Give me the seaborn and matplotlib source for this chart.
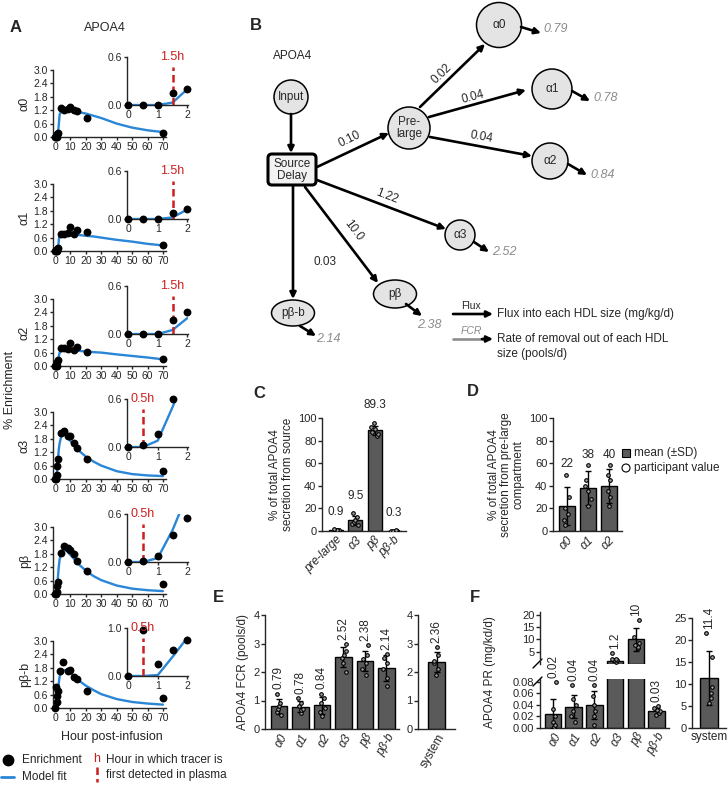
import numpy as np
import pandas as pd
import matplotlib
matplotlib.use("Agg")
import matplotlib.pyplot as plt
import seaborn as sns
from matplotlib.patches import Ellipse, FancyBboxPatch, Rectangle
from matplotlib.ticker import FormatStrFormatter

sns.set_theme(style="ticks")
plt.rcParams["font.family"] = ["Liberation Sans", "DejaVu Sans"]
plt.rcParams["axes.facecolor"] = "none"
plt.rcParams["axes.linewidth"] = 1.0
np.random.seed(4)

BLUE = "#2a86d6"
RED = "#cc1f1f"
BAR = "#5a5a5a"
GREY_TXT = "#8c8c8c"
NODE = "#e4e4e4"

# --- Panel A: enrichment time courses ---
species = ["α0", "α1", "α2", "α3", "pβ", "pβ-b"]
early_t = [0, 0.5, 1, 1.5, 2]
late_t = [4, 6, 8.5, 10, 12, 14, 21, 70]
pbb_late_t = [3, 5.5, 8.5, 10, 12, 14, 21, 70]

a0_enr = [0, 0, 0, 0.15, 0.2, 1.3, 1.2, 1.25, 1.35, 1.2, 1.15, 0.85, 0.2]
a1_enr = [0, 0, 0, 0.08, 0.13, 0.78, 0.74, 0.8, 1.07, 0.78, 0.93, 0.83, 0.25]
a2_enr = [0, 0, 0, 0.17, 0.27, 0.82, 0.82, 0.78, 1.05, 0.72, 0.85, 0.64, 0.32]
a3_enr = [0, 0.02, 0.16, 0.6, 0.9, 2.05, 2.15, 1.94, 1.94, 1.63, 1.4, 0.88, 0.35]
pb_enr = [0, 0.01, 0.08, 0.34, 0.55, 1.83, 2.16, 2.05, 1.98, 1.79, 1.48, 1.03, 0.45]
pbb_enr = [0, 0.95, 0.25, 0.55, 0.74, 1.65, 2.05, 1.67, 1.7, 1.37, 1.28, 0.74, 0.45]

fit_t = [0, 0.5, 1, 1.5, 2, 2.5, 3, 4, 5, 6, 8, 10, 12, 15, 20, 25, 30, 40, 50, 60, 70]
a0_fit = [0, 0, 0, 0.03, 0.2, 0.6, 1.0, 1.15, 1.2, 1.2, 1.2, 1.2, 1.18, 1.12, 1.05, 0.95, 0.85, 0.6, 0.42, 0.3, 0.22]
a1_fit = [0, 0, 0, 0.02, 0.12, 0.5, 0.75, 0.8, 0.8, 0.8, 0.78, 0.76, 0.74, 0.72, 0.68, 0.65, 0.6, 0.5, 0.42, 0.32, 0.25]
a2_fit = [0, 0, 0, 0.05, 0.2, 0.45, 0.6, 0.68, 0.7, 0.7, 0.7, 0.7, 0.69, 0.68, 0.65, 0.62, 0.6, 0.52, 0.45, 0.38, 0.3]
a3_fit = [0, 0, 0.08, 0.5, 0.95, 1.35, 1.6, 1.9, 2.0, 2.0, 1.85, 1.7, 1.55, 1.3, 1.0, 0.78, 0.6, 0.35, 0.22, 0.16, 0.13]
pb_fit = [0, 0, 0.05, 0.4, 0.85, 1.25, 1.55, 1.85, 2.0, 2.0, 1.9, 1.75, 1.6, 1.35, 1.05, 0.8, 0.62, 0.38, 0.24, 0.17, 0.13]
pbb_fit = [0, 0, 0.02, 0.4, 0.8, 1.15, 1.4, 1.6, 1.7, 1.7, 1.65, 1.55, 1.45, 1.25, 1.0, 0.8, 0.62, 0.4, 0.27, 0.2, 0.15]

onset_h = [1.5, 1.5, 1.5, 0.5, 0.5, 0.5]
inset_top = [0.6, 0.6, 0.6, 0.6, 0.6, 1.0]

# --- Panel B: fluxes and FCRs ---
flux_vals = ["0.10", "0.02", "0.04", "0.04", "1.22", "10.0", "0.03"]

# --- Panel C ---
c_cats = ["pre-large", "α3", "pβ", "pβ-b"]
c_mean = [0.9, 9.5, 89.3, 0.3]
c_sd = [0.4, 4.0, 4.0, 0.15]
c_pts = [[0.3, 0.6, 0.8, 1.0, 1.2, 1.5], [5, 6, 8, 10, 12, 16],
         [84, 86, 88, 90, 92, 96], [0.1, 0.2, 0.3, 0.3, 0.4, 0.5]]

# --- Panel D ---
d_cats = ["α0", "α1", "α2"]
d_mean = [22, 38, 40]
d_sd = [17, 15, 15]
d_pts = [[5, 10, 15, 20, 30, 50], [22, 28, 35, 40, 45, 58], [22, 30, 35, 45, 50, 58]]

# --- Panel E: FCR ---
e_cats = ["α0", "α1", "α2", "α3", "pβ", "pβ-b"]
e_mean = [0.79, 0.78, 0.84, 2.52, 2.38, 2.14]
e_sd = [0.28, 0.2, 0.3, 0.35, 0.35, 0.45]
e_pts = [[0.5, 0.6, 0.7, 0.8, 0.9, 1.24], [0.55, 0.65, 0.7, 0.8, 0.9, 1.08],
         [0.45, 0.6, 0.75, 0.9, 1.1, 1.24], [2.0, 2.3, 2.5, 2.6, 2.75, 2.97],
         [1.9, 2.1, 2.3, 2.45, 2.6, 2.93], [1.5, 1.8, 2.1, 2.3, 2.5, 2.64]]
sys_fcr_mean = 2.36
sys_fcr_sd = 0.35
sys_fcr_pts = [1.9, 2.1, 2.3, 2.4, 2.6, 2.86]

# --- Panel F: production rate ---
f_mean = [0.025, 0.037, 0.04, 1.2, 10, 0.03]
f_sd = [0.025, 0.02, 0.025, 0.4, 4.5, 0.005]
f_lbl = ["0.02", "0.04", "0.04", "1.2", "10", "0.03"]
f_pts = [[0.002, 0.005, 0.01, 0.02, 0.033, 0.08], [0.01, 0.02, 0.03, 0.04, 0.05, 0.075],
         [0.005, 0.02, 0.03, 0.04, 0.055, 0.075], [1.0, 1.5, 1.8, 1.9, 2.0, 4.5],
         [6.5, 7.1, 7.8, 8.6, 11, 18], [0.022, 0.026, 0.029, 0.031, 0.034, 0.038]]
sys_pr_mean = 11.4
sys_pr_sd = 6.2
sys_pr_pts = [5.7, 6.8, 8.0, 9.4, 16.2, 21.6]

W, H = 728, 785
fig = plt.figure(figsize=(W / 100, H / 100), dpi=100)
fig.patch.set_facecolor("white")


def box(l, t, r, b):
    return fig.add_axes([l / W, 1 - b / H, (r - l) / W, (b - t) / H])


# canvas in pixel units for the schematic and hand-made legends
ax_b = fig.add_axes([0, 0, 1, 1], zorder=-1)
ax_b.set_xlim(0, W)
ax_b.set_ylim(H, 0)
ax_b.axis("off")

# ---------------- Panel A ----------------
enrs = [a0_enr, a1_enr, a2_enr, a3_enr, pb_enr, pbb_enr]
fits = [a0_fit, a1_fit, a2_fit, a3_fit, pb_fit, pbb_fit]
a_bottoms = [137, 251, 366, 479, 594, 708]

for i, sp in enumerate(species):
    b = a_bottoms[i]
    t = early_t + (pbb_late_t if sp == "pβ-b" else late_t)
    ax = box(53, b - 67, 166, b)
    sns.lineplot(x=fit_t, y=fits[i], ax=ax, color=BLUE, lw=1.7)
    sns.scatterplot(x=t, y=enrs[i], ax=ax, color="black", s=32, linewidth=0,
                    zorder=3, clip_on=False)
    ax.set_xlim(-1.3, 72)
    ax.set_ylim(0, 3.0)
    ax.set_xticks(range(0, 71, 10))
    ax.set_yticks([0, 0.6, 1.2, 1.8, 2.4, 3.0])
    ax.yaxis.set_major_formatter(FormatStrFormatter("%.1f"))
    ax.tick_params(length=2.5, width=1, pad=1, labelsize=7.5)
    ax.set_ylabel(sp, fontsize=9, labelpad=2)
    sns.despine(ax=ax)

    # inset: first 2 hours
    top = inset_top[i]
    axi = box(127, b - 80, 188, b - 32)
    ft = [x for x in fit_t if x <= 2]
    sns.lineplot(x=ft, y=fits[i][:len(ft)], ax=axi, color=BLUE, lw=1.7)
    it = [x for x, y in zip(t, enrs[i]) if x <= 2 and y <= top * 1.02]
    iy = [y for x, y in zip(t, enrs[i]) if x <= 2 and y <= top * 1.02]
    sns.scatterplot(x=it, y=iy, ax=axi, color="black", s=32, linewidth=0,
                    zorder=3, clip_on=False)
    axi.plot([onset_h[i], onset_h[i]], [0, top * 0.8], color=RED, lw=1.8,
             ls=(0, (3, 1.6)), zorder=2)
    axi.text(onset_h[i], top, f"{onset_h[i]}h", color=RED, ha="center",
             va="center", fontsize=9)
    axi.set_xlim(-0.04, 2.02)
    axi.set_ylim(0, top)
    axi.set_xticks([0, 1, 2])
    axi.set_yticks([0, top])
    axi.yaxis.set_major_formatter(FormatStrFormatter("%.1f"))
    axi.tick_params(length=2.5, width=1, pad=1, labelsize=7.5)
    axi.set_xlabel("")
    axi.set_ylabel("")
    sns.despine(ax=axi)

fig.text(10 / W, 1 - 27 / H, "A", fontsize=12, fontweight="bold", va="center")
fig.text(105 / W, 1 - 28 / H, "APOA4", fontsize=9, ha="center", va="center")
fig.text(10 / W, 1 - 390 / H, "% Enrichment", fontsize=9, rotation=90,
         ha="center", va="center")
fig.text(112 / W, 1 - 737 / H, "Hour post-infusion", fontsize=9,
         ha="center", va="center")

# legend of A
ax_b.plot([8], [760], "o", ms=7.5, color="black")
ax_b.text(22, 760, "Enrichment", fontsize=8.5, va="center")
ax_b.plot([1, 14], [777, 777], color=BLUE, lw=2)
ax_b.text(22, 777, "Model fit", fontsize=8.5, va="center")
ax_b.text(97, 759, "h", color=RED, fontsize=9, ha="center", va="center")
ax_b.plot([97, 97], [767, 782], color=RED, lw=1.8, ls=(0, (3, 1.6)))
ax_b.text(106, 760, "Hour in which tracer is", fontsize=8.5, va="center")
ax_b.text(106, 775, "first detected in plasma", fontsize=8.5, va="center")

# ---------------- Panel B ----------------
ax_b.text(250, 26, "B", fontsize=12, fontweight="bold", va="center")
ax_b.text(293, 56, "APOA4", fontsize=8.5, ha="center", va="center")


def node(x, y, w, h, label, fs=8.5):
    ax_b.add_patch(Ellipse((x, y), w, h, fc=NODE, ec="black", lw=1.1))
    ax_b.text(x, y, label, ha="center", va="center", fontsize=fs, linespacing=1.1)


def arrow(p0, p1, color="black", lw=1.9):
    ax_b.annotate("", xy=p1, xytext=p0,
                  arrowprops=dict(arrowstyle="-|>", lw=lw, color=color,
                                  shrinkA=0, shrinkB=0, mutation_scale=9))


node(291, 97, 34, 34, "Input")
ax_b.add_patch(FancyBboxPatch((268, 154), 48, 31,
                              boxstyle="round,pad=0,rounding_size=4",
                              fc="#f2f2f2", ec="black", lw=2.2))
ax_b.text(292, 170, "Source\nDelay", ha="center", va="center", fontsize=8.5,
          linespacing=1.05)
node(409, 128, 42, 42, "Pre-\nlarge")
node(499, 25, 45, 45, "α0")
node(552, 89, 40, 40, "α1")
node(550, 161, 36, 36, "α2")
node(460, 235, 30, 30, "α3")
node(395, 294, 43, 28, "pβ")
node(293, 313, 43, 26, "pβ-b")

arrow((291, 114), (291, 153))
arrow((317, 167), (389, 133))
arrow((420, 107), (485, 44))
arrow((429, 117), (526, 90))
arrow((430, 137), (532, 156))
arrow((317, 180), (446, 229))
arrow((305, 187), (378, 283))
arrow((293, 186), (293, 299))

ax_b.text(350, 139, flux_vals[0], rotation=26, ha="center", va="center", fontsize=8.5)
ax_b.text(442, 74, flux_vals[1], rotation=44, ha="center", va="center", fontsize=8.5)
ax_b.text(473, 97, flux_vals[2], rotation=15, ha="center", va="center", fontsize=8.5)
ax_b.text(481, 137, flux_vals[3], rotation=-10, ha="center", va="center", fontsize=8.5)
ax_b.text(387, 196, flux_vals[4], rotation=-21, ha="center", va="center", fontsize=8.5)
ax_b.text(353, 230, flux_vals[5], rotation=-53, ha="center", va="center", fontsize=8.5)
ax_b.text(325, 262, flux_vals[6], ha="center", va="center", fontsize=8.5)

# removal arrows and FCR values
outflows = [((521, 27), (541, 33), (543, 29)),
            ((572, 91), (590, 101), (593, 98)),
            ((568, 164), (587, 175), (590, 175)),
            ((474, 242), (489, 252), (492, 252)),
            ((406, 304), (422, 316), (417, 325)),
            ((300, 326), (316, 336), (316, 339))]
for (p0, p1, tp), v in zip(outflows, e_mean[:6]):
    arrow(p0, p1)
for (p0, p1, tp), v in zip(outflows, [0.79, 0.78, 0.84, 2.52, 2.38, 2.14]):
    ax_b.text(tp[0], tp[1], f"{v:.2f}", color=GREY_TXT, fontstyle="italic",
              fontsize=9, ha="left", va="center")

# key
arrow((453, 314), (493, 314))
ax_b.text(471, 311, "Flux", fontsize=7.5, ha="center", va="bottom")
ax_b.text(497, 314, "Flux into each HDL size (mg/kg/d)", fontsize=8.5, va="center")
ax_b.plot([453, 484], [339, 339], color="#8c8c8c", lw=1.9)
arrow((482, 339), (493, 339))
ax_b.text(471, 336, "FCR", fontsize=7.5, ha="center", va="bottom",
          color=GREY_TXT, fontstyle="italic")
ax_b.text(497, 339, "Rate of removal out of each HDL", fontsize=8.5, va="center")
ax_b.text(497, 354, "size (pools/d)", fontsize=8.5, va="center")


# ---------------- bar panels ----------------
def bar_panel(ax, order, cats, means, sds, pts, width, labels=None, off=3,
              rot=0, bars=True):
    if bars:
        sns.barplot(x=cats, y=means, order=order, color=BAR, saturation=1,
                    width=width, edgecolor="black", linewidth=1, errorbar=None,
                    ax=ax)
    pos = [order.index(c) for c in cats]
    ax.errorbar(pos, means, yerr=sds, fmt="none", ecolor="black",
                elinewidth=1, capsize=2.5, capthick=1, zorder=3)
    long = pd.DataFrame({"cat": np.repeat(cats, [len(p) for p in pts]),
                         "val": np.concatenate(pts)})
    sns.stripplot(data=long, x="cat", y="val", order=order, ax=ax, jitter=0.17,
                  size=2.6, color="#a0a0a0", edgecolor="black", linewidth=0.8,
                  zorder=4)
    if labels is not None:
        for p, m, s, pt, lb in zip(pos, means, sds, pts, labels):
            top = max(m + s, max(pt))
            ax.annotate(lb, (p, top), xytext=(0, off), textcoords="offset points",
                        ha="center", va="bottom", rotation=rot, fontsize=8.5,
                        annotation_clip=False)
    ax.set_xlabel("")
    ax.set_ylabel("")
    sns.despine(ax=ax)
    ax.tick_params(axis="y", length=3, width=1, pad=1, labelsize=8)
    ax.tick_params(axis="x", length=0, pad=2, labelsize=8.5)


def xlabels(ax, labels, rot, italic=True):
    ax.set_xticks(range(len(labels)))
    ax.set_xticklabels(labels, rotation=rot, ha="right" if rot else "center",
                       rotation_mode="anchor", fontstyle="italic" if italic else "normal")


# C
ax_c = box(322, 418, 405.5, 531)
bar_panel(ax_c, c_cats, c_cats, c_mean, c_sd, c_pts, 0.72,
          labels=[f"{v:.1f}" for v in c_mean], off=8)
ax_c.set_xlim(-0.725, 3.6)
ax_c.set_ylim(0, 100)
ax_c.set_yticks(range(0, 101, 20))
xlabels(ax_c, c_cats, 45)
ax_c.set_ylabel("% of total APOA4\nsecretion from source", fontsize=8.5,
                labelpad=3, linespacing=1.05)
fig.text(253 / W, 1 - 393 / H, "C", fontsize=12, fontweight="bold", va="center")

# D
ax_d = box(553, 418, 621.6, 531)
bar_panel(ax_d, d_cats, d_cats, d_mean, d_sd, d_pts, 0.72,
          labels=[f"{v:.0f}" for v in d_mean], off=3)
ax_d.set_xlim(-0.667, 2.6)
ax_d.set_ylim(0, 100)
ax_d.set_yticks(range(0, 101, 20))
xlabels(ax_d, d_cats, 45)
ax_d.set_ylabel("% of total APOA4\nsecretion from pre-large\ncompartment",
                fontsize=8.5, labelpad=3, linespacing=1.05)
fig.text(467 / W, 1 - 392 / H, "D", fontsize=12, fontweight="bold", va="center")
ax_b.add_patch(Rectangle((622, 449), 8, 8, fc=BAR, ec="black", lw=0.8))
ax_b.text(634, 453, "mean (±SD)", fontsize=8.5, va="center")
ax_b.add_patch(Ellipse((626, 468), 8, 8, fc="white", ec="black", lw=0.8))
ax_b.text(634, 468, "participant value", fontsize=8.5, va="center")

# E
ax_e = box(265, 615, 399.4, 729)
bar_panel(ax_e, e_cats, e_cats, e_mean, e_sd, e_pts, 0.75,
          labels=[f"{v:.2f}" for v in e_mean], off=3, rot=90)
ax_e.set_xlim(-0.65, 5.6)
ax_e.set_ylim(0, 4)
ax_e.set_yticks(range(0, 5))
xlabels(ax_e, e_cats, 60)
ax_e.set_ylabel("APOA4 FCR (pools/d)", fontsize=8.5, labelpad=3)
fig.text(213 / W, 1 - 597 / H, "E", fontsize=12, fontweight="bold", va="center")

ax_es = box(418, 615, 455, 729)
bar_panel(ax_es, ["system"], ["system"], [sys_fcr_mean], [sys_fcr_sd],
          [sys_fcr_pts], 0.9, labels=[f"{sys_fcr_mean:.2f}"], off=3, rot=90)
ax_es.set_xlim(-1, 1)
ax_es.set_ylim(0, 4)
ax_es.set_yticks(range(0, 5))
xlabels(ax_es, ["system"], 60, italic=False)

# F (broken axis)
small = [0, 1, 2, 5]
big = [3, 4]
ax_fl = box(540, 679, 669, 728)
sns.barplot(x=e_cats, y=f_mean, order=e_cats, color=BAR, saturation=1, width=0.8,
            edgecolor="black", linewidth=1, errorbar=None, ax=ax_fl)
bar_panel(ax_fl, e_cats, [e_cats[k] for k in small], [f_mean[k] for k in small],
          [f_sd[k] for k in small], [f_pts[k] for k in small], 0.8,
          labels=[f_lbl[k] for k in small], off=3, rot=90, bars=False)
ax_fl.set_xlim(-0.628, 5.6)
ax_fl.set_ylim(0, 0.0852)
ax_fl.set_yticks([0, 0.02, 0.04, 0.06, 0.08])
ax_fl.yaxis.set_major_formatter(FormatStrFormatter("%.2f"))
xlabels(ax_fl, e_cats, 60)

ax_fu = box(540, 612, 669, 664)
bar_panel(ax_fu, e_cats, [e_cats[k] for k in big], [f_mean[k] for k in big],
          [f_sd[k] for k in big], [f_pts[k] for k in big], 0.8,
          labels=[f_lbl[k] for k in big], off=3, rot=90)
ax_fu.set_xlim(-0.628, 5.6)
ax_fu.set_ylim(0, 21.2)
ax_fu.set_yticks([5, 10, 15, 20])
ax_fu.spines["bottom"].set_visible(False)
ax_fu.set_xticks([])
ax_b.plot([533, 542], [686, 677], color="black", lw=1)
ax_b.plot([533, 542], [668, 659], color="black", lw=1)
fig.text(490 / W, 1 - 672 / H, "APOA4 PR (mg/kd/d)", fontsize=8.5, rotation=90,
         ha="center", va="center")
fig.text(470 / W, 1 - 597 / H, "F", fontsize=12, fontweight="bold", va="center")

ax_fs = box(692, 618, 726, 728)
bar_panel(ax_fs, ["system"], ["system"], [sys_pr_mean], [sys_pr_sd],
          [sys_pr_pts], 1.0, labels=[f"{sys_pr_mean:.1f}"], off=3, rot=90)
ax_fs.set_xlim(-0.95, 0.95)
ax_fs.set_ylim(0, 25)
ax_fs.set_yticks(range(0, 26, 5))
xlabels(ax_fs, ["system"], 0, italic=False)

fig.savefig("out.png", dpi=100)
